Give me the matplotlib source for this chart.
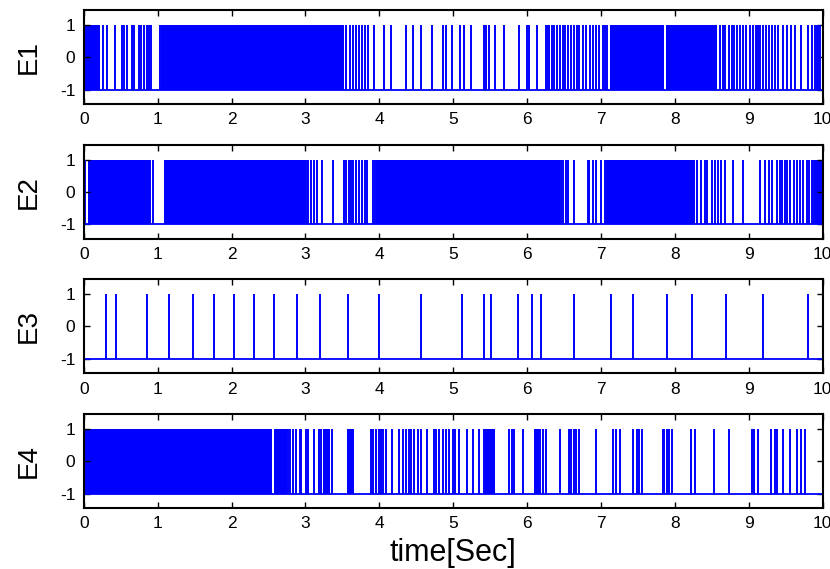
#!/usr/bin/env python3
# -*- coding: utf-8 -*-
"""
E1..E4 switching signals (pulse trains between -1 and 1), time 0..10 s
- output: out.png
"""

import matplotlib
matplotlib.use("Agg")
import matplotlib.pyplot as plt

plt.rcParams["font.family"] = ["Liberation Sans", "DejaVu Sans"]
plt.rcParams["axes.unicode_minus"] = False

LABELS = ["E1", "E2", "E3", "E4"]

# dense switching bands (start, end) in seconds -> appear as solid blue
E1_BANDS = [(0.0, 0.22), (1.05, 3.52), (7.12, 7.86), (7.88, 8.57)]
E1_SPIKES = [0.26, 0.32, 0.42, 0.52, 0.55, 0.59, 0.65, 0.68, 0.75, 0.78, 0.81,
             0.85, 0.88, 0.91, 1.03, 3.55, 3.60, 3.64, 3.68, 3.72, 3.76, 3.80,
             3.85, 3.93, 4.07, 4.16, 4.36, 4.46, 4.56, 4.71, 4.86, 4.90, 4.98,
             5.09, 5.15, 5.24, 5.42, 5.45, 5.49, 5.56, 5.69, 5.89, 6.00, 6.03,
             6.14, 6.26, 6.28, 6.30, 6.34, 6.37, 6.40, 6.44, 6.48, 6.52, 6.56,
             6.60, 6.63, 6.68, 6.71, 6.76, 6.80, 6.85, 6.89, 6.94, 6.97, 7.03,
             7.05, 7.08, 8.61, 8.65, 8.68, 8.74, 8.77, 8.80, 8.84, 8.88, 8.93,
             8.97, 9.02, 9.06, 9.10, 9.13, 9.16, 9.20, 9.24, 9.28, 9.31, 9.36,
             9.40, 9.47, 9.52, 9.57, 9.63, 9.71, 9.81, 9.86, 9.90, 9.92, 9.94,
             9.97, 10.0]

E2_BANDS = [(0.05, 0.91), (1.09, 2.99), (3.95, 6.44), (7.07, 8.27), (9.90, 10.0)]
E2_SPIKES = [0.02, 0.94, 3.01, 3.03, 3.08, 3.11, 3.15, 3.23, 3.37, 3.52, 3.55,
             3.59, 3.62, 3.65, 3.69, 3.72, 3.77, 3.81, 3.84, 3.91, 3.94, 6.46,
             6.49, 6.53, 6.56, 6.63, 6.82, 6.84, 6.89, 6.93, 7.00, 7.05, 8.30,
             8.36, 8.41, 8.44, 8.50, 8.54, 8.59, 8.63, 8.68, 8.79, 8.93, 9.16,
             9.22, 9.27, 9.31, 9.38, 9.42, 9.45, 9.49, 9.52, 9.56, 9.61, 9.65,
             9.70, 9.74, 9.79, 9.82, 9.86, 9.89]

E3_BANDS = []
E3_SPIKES = [0.0, 0.30, 0.43, 0.86, 1.15, 1.48, 1.76, 2.03, 2.31, 2.58, 2.88,
             3.20, 3.57, 4.00, 4.57, 5.12, 5.42, 5.51, 5.88, 6.07, 6.19, 6.63,
             7.14, 7.44, 7.90, 8.23, 8.69, 9.20, 9.80]

E4_BANDS = [(0.0, 2.55), (2.57, 2.75), (3.24, 3.33), (3.56, 3.66),
            (5.43, 5.56), (6.10, 6.16)]
E4_SPIKES = [2.76, 2.79, 2.83, 2.87, 2.92, 2.94, 3.01, 3.04, 3.12, 3.19, 3.21,
             3.36, 3.89, 3.91, 3.95, 4.00, 4.02, 4.05, 4.09, 4.17, 4.26, 4.32,
             4.36, 4.40, 4.43, 4.47, 4.52, 4.56, 4.65, 4.74, 4.77, 4.81, 4.86,
             4.90, 4.95, 5.00, 5.03, 5.08, 5.19, 5.27, 5.35, 5.42, 5.76, 5.79,
             5.83, 5.94, 6.18, 6.22, 6.26, 6.44, 6.57, 6.60, 6.63, 6.66, 6.70,
             6.94, 7.17, 7.20, 7.26, 7.44, 7.49, 7.52, 7.55, 7.84, 7.86, 7.89,
             7.92, 7.96, 8.22, 8.27, 8.53, 8.73, 9.04, 9.07, 9.12, 9.30, 9.36,
             9.39, 9.47, 9.56, 9.65, 9.71, 9.76, 10.0]

BANDS = [E1_BANDS, E2_BANDS, E3_BANDS, E4_BANDS]
SPIKES = [E1_SPIKES, E2_SPIKES, E3_SPIKES, E4_SPIKES]

BLUE = "#0000ff"

# axes bottoms in figure fraction
BOTTOMS = [0.817, 0.580, 0.344, 0.107]


def main():
    fig = plt.figure(figsize=(8.30, 5.69), dpi=100)
    for i, lab in enumerate(LABELS):
        ax = fig.add_axes([0.101, BOTTOMS[i], 0.890, 0.165])
        # baseline at -1
        ax.hlines(-1, 0, 10, color=BLUE, lw=1.3)
        for (a, b) in BANDS[i]:
            ax.fill_between([a, b], -1, 1, color=BLUE, lw=0)
        ax.vlines(SPIKES[i], -1, 1, color=BLUE, lw=1.4)

        ax.set_xlim(0, 10)
        ax.set_ylim(-1.45, 1.45)
        ax.set_xticks(range(0, 11))
        ax.set_yticks([-1, 0, 1])
        ax.tick_params(direction="in", top=True, right=True, length=4,
                       width=1, labelsize=12.5, pad=6, colors="black")
        for s in ax.spines.values():
            s.set_linewidth(1.5)
        ax.set_ylabel(lab, fontsize=20, labelpad=13)
        if i == 3:
            ax.set_xlabel("time[Sec]", fontsize=22, labelpad=5)

    fig.savefig("out.png", dpi=100)
    plt.close(fig)


if __name__ == "__main__":
    main()
